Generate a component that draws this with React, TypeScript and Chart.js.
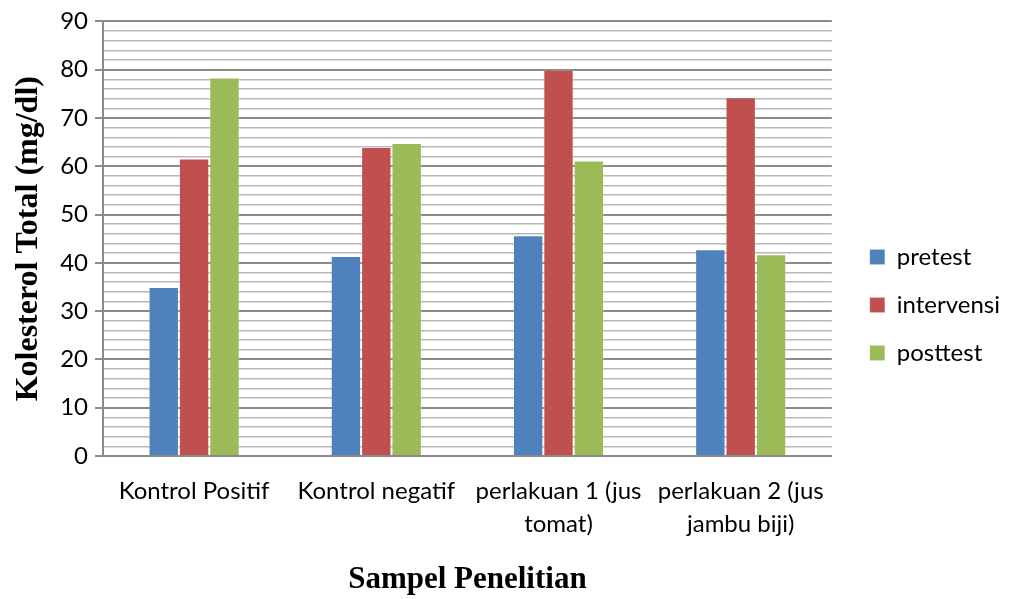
import React, { useEffect, useRef } from 'react';
import { Chart, registerables } from 'chart.js';

Chart.register(...registerables);

const categories: string[][] = [
  ['Kontrol Positif'],
  ['Kontrol negatif'],
  ['perlakuan 1 (jus', 'tomat)'],
  ['perlakuan 2 (jus', 'jambu biji)'],
];
const seriesNames = ['pretest', 'intervensi', 'posttest'];
const pretest = [35.0, 41.4, 45.7, 42.8];
const intervensi = [61.6, 64.0, 80.0, 74.3];
const posttest = [78.4, 64.8, 61.2, 41.8];
const seriesColors = ['#4F81BD', '#C0504D', '#9BBB59'];
const yMin = 0;
const yMax = 90;
const yMinorStep = 2;
const yMajorStep = 10;
const yTitle = 'Kolesterol Total (mg/dl)';
const xTitle = 'Sampel Penelitian';

const sansFont = 'Lato';
const serifFont = '"Liberation Serif", "Times New Roman", serif';

export default function App() {
  const canvasRef = useRef<HTMLCanvasElement | null>(null);

  useEffect(() => {
    if (!canvasRef.current) return;
    const values = [pretest, intervensi, posttest];
    const isMajor = (v: number) => Math.abs(v % yMajorStep) < 1e-6;
    const chart = new Chart(canvasRef.current, {
      type: 'bar',
      data: {
        labels: categories,
        datasets: seriesNames.map((name, i) => ({
          label: name,
          data: values[i],
          backgroundColor: seriesColors[i],
          borderColor: 'rgba(255,255,255,0.18)',
          borderWidth: 1,
          categoryPercentage: 0.5,
          barPercentage: 1.0,
          xAxisID: 'x',
          yAxisID: 'y',
        })),
      },
      options: {
        animation: false,
        responsive: false,
        layout: { padding: { top: 11, right: 0, bottom: 0, left: 0 } },
        plugins: {
          title: { display: false },
          tooltip: { enabled: false },
          legend: {
            display: true,
            position: 'right',
            align: 'center',
            labels: {
              boxWidth: 15,
              boxHeight: 15,
              padding: 24,
              color: '#000',
              font: { family: sansFont, size: 24 },
            },
          },
        },
        scales: {
          x: {
            type: 'category',
            position: 'bottom',
            grid: { display: false },
            border: { display: true, color: '#8a8a8a', width: 2 },
            ticks: {
              color: '#000',
              font: { family: sansFont, size: 24, lineHeight: '33px' },
              padding: 11,
              maxRotation: 0,
              autoSkip: false,
            },
            title: {
              display: true,
              text: xTitle,
              color: '#000',
              font: { family: serifFont, size: 31, weight: 'bold' },
              padding: { top: 0, bottom: 0 },
            },
            afterFit: (s: any) => {
              s.height = 143;
            },
          },
          xTopPad: {
            type: 'linear',
            axis: 'x',
            position: 'top',
            display: true,
            grid: { display: false },
            border: { display: false },
            ticks: { display: false },
            afterFit: (s: any) => {
              s.height = 10;
            },
          },
          y: {
            type: 'linear',
            position: 'left',
            min: yMin,
            max: yMax,
            ticks: {
              stepSize: yMinorStep,
              autoSkip: false,
              color: '#000',
              font: { family: sansFont, size: 24 },
              padding: 7,
              callback: (v: any) => (isMajor(Number(v)) ? String(v) : ''),
            },
            grid: {
              drawTicks: true,
              tickLength: 8,
              color: (ctx: any) => (isMajor(ctx.tick.value) ? '#8a8a8a' : '#b8b8b8'),
              lineWidth: (ctx: any) => (isMajor(ctx.tick.value) ? 2 : 1.5),
              tickColor: (ctx: any) => (isMajor(ctx.tick.value) ? '#8a8a8a' : 'rgba(0,0,0,0)'),
              tickWidth: 2,
            },
            border: { display: true, color: '#8a8a8a', width: 2 },
            title: {
              display: true,
              text: yTitle,
              color: '#000',
              font: { family: serifFont, size: 32, weight: 'bold' },
              padding: { top: 10, bottom: 0 },
            },
            afterFit: (s: any) => {
              s.width = 103;
            },
          },
          yRightPad: {
            type: 'linear',
            axis: 'y',
            position: 'right',
            display: true,
            grid: { display: false },
            border: { display: false },
            ticks: { display: false },
            afterFit: (s: any) => {
              s.width = 14;
            },
          },
        },
      } as any,
    });
    return () => chart.destroy();
  }, []);

  return (
    <div style={{ position: 'fixed', left: 0, top: 0, width: 1010, height: 599, background: '#fff' }}>
      <canvas ref={canvasRef} width={1010} height={599} style={{ display: 'block' }} />
    </div>
  );
}
